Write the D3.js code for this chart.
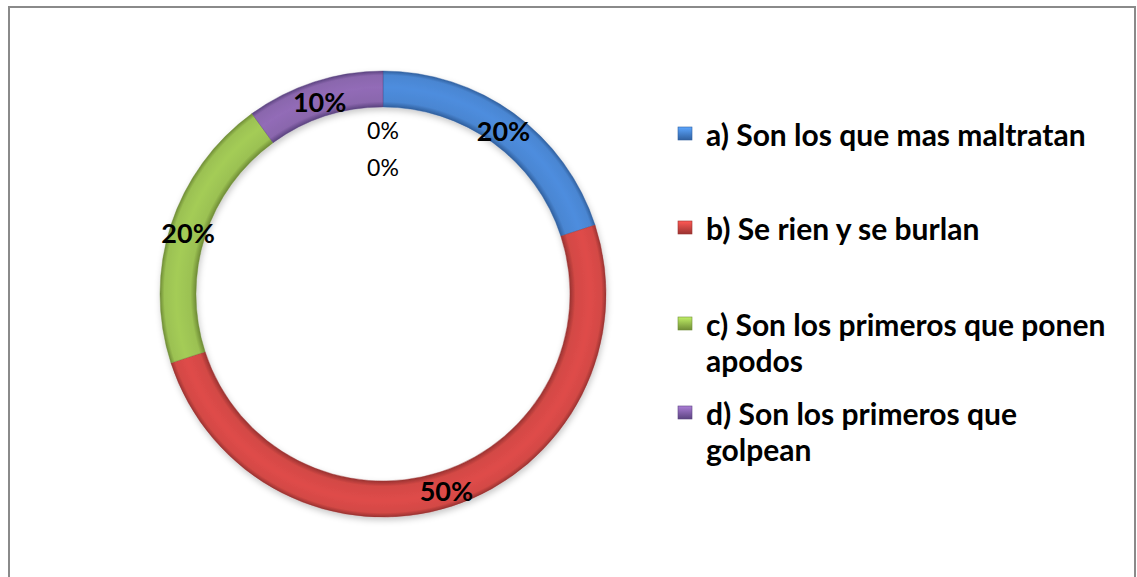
<!DOCTYPE html>
<html>
<head>
<meta charset="utf-8">
<script src="https://cdn.jsdelivr.net/npm/d3@7"></script>
<style>
  html, body { margin: 0; padding: 0; background: #fff; }
  svg { display: block; }
</style>
</head>
<body>
<script>
// chart values
const categories = [
  "a) Son los que mas maltratan",
  "b) Se rien y se burlan",
  "c) Son los primeros que ponen apodos",
  "d) Son los primeros que golpean",
  "e)",
  "f)"
];
const values = [20, 50, 20, 10, 0, 0];
const legendLines = [
  ["a) Son los que mas maltratan"],
  ["b) Se rien y se burlan"],
  ["c) Son los primeros que ponen", "apodos"],
  ["d) Son los primeros que", "golpean"]
];
const colors = ["#4a86d2", "#d34845", "#9bc152", "#8a66ad"];
const darkColors = ["#30609f", "#9a3331", "#6f8c36", "#5b4380"];

const W = 1137, H = 577;
const cx = 383, cy = 294, rOuter = 223, rInner = 187;

const svg = d3.select("body").append("svg")
  .attr("width", W)
  .attr("height", H);

// chart frame
svg.append("rect")
  .attr("x", 9).attr("y", 7)
  .attr("width", 1126).attr("height", 600)
  .attr("fill", "#fff")
  .attr("stroke", "#8a8a8a")
  .attr("stroke-width", 2);

const defs = svg.append("defs");

// soft shadow under the ring
const f = defs.append("filter").attr("id", "shadow")
  .attr("x", "-20%").attr("y", "-20%").attr("width", "140%").attr("height", "140%");
f.append("feDropShadow")
  .attr("dx", 1).attr("dy", 3).attr("stdDeviation", 3)
  .attr("flood-color", "#000").attr("flood-opacity", 0.22);

// bevel-like gradient across the ring thickness
colors.forEach((c, i) => {
  const g = defs.append("radialGradient")
    .attr("id", "grad" + i)
    .attr("gradientUnits", "userSpaceOnUse")
    .attr("cx", 0).attr("cy", 0).attr("r", rOuter);
  const lo = rInner / rOuter;
  g.append("stop").attr("offset", lo).attr("stop-color", darkColors[i]);
  g.append("stop").attr("offset", lo + (1 - lo) * 0.15).attr("stop-color", c);
  g.append("stop").attr("offset", lo + (1 - lo) * 0.55).attr("stop-color", d3.color(c).brighter(0.15));
  g.append("stop").attr("offset", lo + (1 - lo) * 0.88).attr("stop-color", c);
  g.append("stop").attr("offset", 1).attr("stop-color", darkColors[i]);

  const lg = defs.append("linearGradient")
    .attr("id", "leg" + i)
    .attr("x1", 0).attr("y1", 0).attr("x2", 0).attr("y2", 1);
  lg.append("stop").attr("offset", 0).attr("stop-color", d3.color(c).brighter(0.6));
  lg.append("stop").attr("offset", 1).attr("stop-color", darkColors[i]);
});

const pie = d3.pie().sort(null).value(d => d);
const arcs = pie(values);
const arc = d3.arc().innerRadius(rInner).outerRadius(rOuter);
const labelArc = d3.arc().innerRadius(205).outerRadius(205);

const g = svg.append("g").attr("transform", `translate(${cx},${cy})`);

g.append("g").attr("filter", "url(#shadow)")
  .selectAll("path")
  .data(arcs.filter(d => d.value > 0))
  .join("path")
    .attr("d", arc)
    .attr("fill", d => `url(#grad${d.index})`)
    .attr("stroke", d => darkColors[d.index])
    .attr("stroke-opacity", 0.5)
    .attr("stroke-width", 0.8);

// labels; zero slices stack under the top of the ring
let zeroCount = 0;
g.selectAll("text.lbl")
  .data(arcs)
  .join("text")
    .attr("class", "lbl")
    .attr("text-anchor", "middle")
    .attr("dominant-baseline", "central")
    .attr("font-family", "Lato, 'Open Sans', sans-serif")
    .attr("font-weight", d => d.value > 0 ? 700 : 400)
    .attr("font-size", d => d.value > 0 ? 27 : 23)
    .attr("fill", "#000")
    .attr("transform", d => {
      if (d.value > 0) {
        const [x, y] = labelArc.centroid(d);
        return `translate(${x},${y + 2})`;
      }
      zeroCount++;
      return `translate(0,${-rOuter + 22 + zeroCount * 37})`;
    })
    .text(d => d.value + "%");

// legend
const lineH = 36;
const legendY = [134, 228, 324, 413];
const legend = svg.append("g");
legendLines.forEach((lines, i) => {
  const y = legendY[i];
  legend.append("rect")
    .attr("x", 678).attr("y", y - 7)
    .attr("width", 14).attr("height", 13)
    .attr("fill", `url(#leg${i})`)
    .attr("stroke", darkColors[i])
    .attr("stroke-width", 0.6);
  const t = legend.append("text")
    .attr("x", 706).attr("y", y)
    .attr("dominant-baseline", "central")
    .attr("font-family", "Lato, 'Open Sans', sans-serif")
    .attr("font-weight", 700)
    .attr("font-size", 30)
    .attr("fill", "#000");
  lines.forEach((s, j) => {
    t.append("tspan")
      .attr("x", 706)
      .attr("dy", j === 0 ? 0 : lineH)
      .text(s);
  });
});
</script>
</body>
</html>
